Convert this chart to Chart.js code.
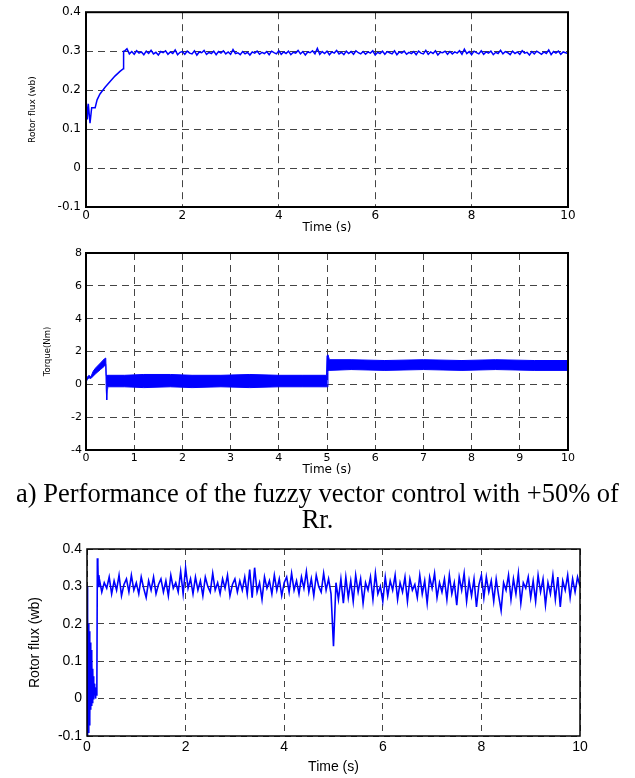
<!DOCTYPE html>
<html>
<head>
<meta charset="utf-8">
<script src="https://cdn.jsdelivr.net/npm/chart.js@4.4.0/dist/chart.umd.min.js"></script>
<style>
body { margin: 0; background: #fff; width: 635px; height: 778px; position: relative; overflow: hidden; }
.box { position: absolute; }
#caption { position: absolute; left: 0; top: 480px; width: 635px; text-align: center;
  font-family: "Liberation Serif", "Times New Roman", serif; font-size: 26.5px; line-height: 26px; color: #000; }
</style>
</head>
<body>
<div class="box" style="left:0;top:0;width:600px;height:238px"><canvas id="fluxA"></canvas></div>
<div class="box" style="left:0;top:240px;width:600px;height:240px"><canvas id="torque"></canvas></div>
<div id="caption">a) Performance of the fuzzy vector control with +50% of<br>Rr.</div>
<div class="box" style="left:0;top:530px;width:635px;height:248px"><canvas id="fluxB"></canvas></div>
<script>
// top plot: rotor flux, start-up transient then steady noise (sampled every 0.05 s from 0.8 s)
const fluxATransTime = [0, 0.005, 0.027, 0.048, 0.083, 0.118, 0.19, 0.23, 0.29, 0.4, 0.5, 0.6, 0.705, 0.775, 0.78];
const fluxATransValue = [0, 0.17, 0.125, 0.165, 0.115, 0.155, 0.155, 0.175, 0.19, 0.208, 0.222, 0.236, 0.248, 0.255, 0.3];
const fluxANoiseStart = 0.8, fluxANoiseStep = 0.05;
const fluxANoise = [
  0.300, 0.306, 0.293, 0.299, 0.292, 0.301, 0.295, 0.298, 0.291, 0.300, 0.294, 0.302, 0.293, 0.297, 0.290, 0.299, 0.296, 0.301, 0.292, 0.298,
  0.294, 0.303, 0.291, 0.297, 0.299, 0.292, 0.300, 0.295, 0.293, 0.301, 0.290, 0.298, 0.296, 0.302, 0.292, 0.297, 0.294, 0.300, 0.291, 0.299,
  0.295, 0.301, 0.293, 0.298, 0.292, 0.304, 0.294, 0.296, 0.291, 0.299, 0.293, 0.297, 0.290, 0.298, 0.295, 0.300, 0.292, 0.297, 0.294, 0.299,
  0.291, 0.300, 0.296, 0.293, 0.301, 0.292, 0.298, 0.294, 0.300, 0.291, 0.297, 0.295, 0.302, 0.293, 0.299, 0.290, 0.298, 0.296, 0.301, 0.293,
  0.307, 0.292, 0.299, 0.294, 0.300, 0.291, 0.298, 0.295, 0.302, 0.293, 0.297, 0.291, 0.300, 0.294, 0.299, 0.292, 0.301, 0.296, 0.293, 0.299,
  0.292, 0.298, 0.295, 0.301, 0.290, 0.297, 0.294, 0.300, 0.292, 0.299, 0.296, 0.293, 0.301, 0.291, 0.298, 0.295, 0.300, 0.292, 0.297, 0.294,
  0.299, 0.291, 0.300, 0.295, 0.293, 0.302, 0.292, 0.298, 0.294, 0.301, 0.290, 0.297, 0.296, 0.300, 0.292, 0.299, 0.293, 0.298, 0.295, 0.301,
  0.292, 0.305, 0.294, 0.299, 0.291, 0.300, 0.296, 0.293, 0.301, 0.292, 0.298, 0.295, 0.300, 0.291, 0.297, 0.294, 0.302, 0.293, 0.299, 0.296,
  0.291, 0.300, 0.294, 0.298, 0.292, 0.301, 0.295, 0.297, 0.290, 0.299, 0.293, 0.300, 0.296, 0.292, 0.298, 0.294, 0.303, 0.291, 0.299, 0.295,
  0.300, 0.292, 0.298, 0.296, 0.294
];

// middle plot: torque, drawn as the envelope of the fast ripple
const torqueTime  = [0, 0.03, 0.06, 0.1, 0.15, 0.2, 0.3, 0.38, 0.41, 0.42, 0.43, 0.44, 0.45, 0.8, 1.2, 1.75, 2.2, 2.8, 3.4, 4.0, 4.5, 4.99, 5.0, 5.02, 5.05, 5.5, 6.2, 7.0, 7.8, 8.5, 9.3, 10];
const torqueUpper = [0.2, 0.45, 0.55, 0.45, 0.8, 1.0, 1.3, 1.55, 1.6, 0.55, 0.5, 0.55, 0.55, 0.55, 0.6, 0.6, 0.55, 0.55, 0.6, 0.55, 0.55, 0.55, 1.75, 1.8, 1.5, 1.5, 1.45, 1.5, 1.45, 1.5, 1.45, 1.45];
const torqueLower = [0.15, 0.3, 0.4, 0.35, 0.5, 0.65, 0.9, 1.1, 1.2, -0.3, -0.95, -0.3, -0.15, -0.15, -0.2, -0.15, -0.2, -0.15, -0.2, -0.15, -0.15, -0.15, -0.15, 0.85, 0.85, 0.9, 0.85, 0.9, 0.85, 0.9, 0.85, 0.85];

// bottom plot: rotor flux with noisier estimate (sampled every 0.05 s from 0.25 s)
const fluxBTransTime = [0, 0.004, 0.012, 0.02, 0.028, 0.036, 0.044, 0.052, 0.06, 0.068, 0.076, 0.084, 0.092, 0.1, 0.108, 0.116, 0.124, 0.132, 0.14, 0.148, 0.156, 0.164, 0.172, 0.18, 0.19, 0.2, 0.21, 0.22, 0.23, 0.24];
const fluxBTransValue = [0, 0.3, -0.1, 0.22, -0.09, 0.2, -0.07, 0.18, -0.05, 0.15, -0.03, 0.13, -0.02, 0.11, -0.01, 0.08, 0.0, 0.06, 0.0, 0.04, 0.01, 0.03, 0.0, 0.02, 0.01, 0.02, 0.375, 0.36, 0.3, 0.33];
const fluxBNoiseStart = 0.25, fluxBNoiseStep = 0.05;
const fluxBNoise = [
  0.320, 0.285, 0.310, 0.295, 0.325, 0.280, 0.315, 0.290, 0.330, 0.275, 0.305, 0.320, 0.285, 0.330, 0.290, 0.310, 0.280, 0.325, 0.295, 0.270,
  0.315, 0.290, 0.325, 0.280, 0.305, 0.320, 0.285, 0.315, 0.275, 0.330, 0.295, 0.310, 0.285, 0.340, 0.280, 0.350, 0.295, 0.320, 0.280, 0.325,
  0.290, 0.315, 0.275, 0.325, 0.300, 0.285, 0.335, 0.290, 0.310, 0.280, 0.320, 0.295, 0.330, 0.275, 0.305, 0.320, 0.285, 0.315, 0.290, 0.325,
  0.280, 0.345, 0.270, 0.350, 0.285, 0.310, 0.265, 0.325, 0.295, 0.315, 0.280, 0.330, 0.290, 0.320, 0.275, 0.310, 0.325, 0.285, 0.335, 0.290,
  0.315, 0.280, 0.325, 0.295, 0.340, 0.285, 0.320, 0.275, 0.330, 0.300, 0.285, 0.335, 0.290, 0.320, 0.280, 0.140, 0.310, 0.265, 0.320, 0.255,
  0.325, 0.270, 0.315, 0.260, 0.330, 0.285, 0.320, 0.255, 0.310, 0.290, 0.325, 0.265, 0.335, 0.280, 0.300, 0.260, 0.325, 0.275, 0.315, 0.290,
  0.330, 0.265, 0.310, 0.285, 0.325, 0.260, 0.320, 0.290, 0.305, 0.270, 0.330, 0.280, 0.315, 0.255, 0.325, 0.295, 0.335, 0.270, 0.310, 0.285,
  0.320, 0.265, 0.330, 0.280, 0.310, 0.250, 0.325, 0.290, 0.335, 0.260, 0.315, 0.275, 0.320, 0.245, 0.305, 0.330, 0.270, 0.325, 0.285, 0.315,
  0.260, 0.320, 0.275, 0.235, 0.310, 0.290, 0.330, 0.265, 0.320, 0.280, 0.335, 0.255, 0.310, 0.295, 0.325, 0.270, 0.315, 0.260, 0.330, 0.285,
  0.320, 0.250, 0.310, 0.280, 0.330, 0.265, 0.325, 0.245, 0.315, 0.290, 0.330, 0.270, 0.320, 0.285, 0.325, 0.300
];

const BLUE = '#0000ff';

function series(tt, vv, start, step, noise) {
  const pts = tt.map((t, i) => ({x: t, y: vv[i]}));
  noise.forEach((v, i) => pts.push({x: +(start + i * step).toFixed(3), y: v}));
  return pts;
}

const frame = {
  id: 'frame',
  afterDraw(chart, args, opts) {
    const {ctx, chartArea: a} = chart;
    ctx.save();
    ctx.strokeStyle = '#000';
    ctx.lineWidth = opts.width || 1;
    ctx.strokeRect(a.left, a.top, a.right - a.left, a.bottom - a.top);
    ctx.restore();
  }
};

function makeChart(id, datasets, c) {
  return new Chart(document.getElementById(id), {
    type: 'line',
    data: { datasets: datasets },
    plugins: [frame],
    options: {
      responsive: true,
      maintainAspectRatio: false,
      animation: false,
      events: [],
      layout: { padding: c.pad },
      plugins: { legend: { display: false }, tooltip: { enabled: false }, frame: { width: c.frameWidth } },
      elements: { point: { radius: 0 }, line: { tension: 0 } },
      scales: {
        x: {
          type: 'linear', min: 0, max: 10,
          afterFit: s => { s.height = c.xh; },
          ticks: { stepSize: c.xStep, padding: c.xPad, font: c.tickFont, color: '#000', maxRotation: 0 },
          grid: { color: c.gridColor, drawTicks: false },
          border: { display: false, dash: c.dash },
          title: { display: true, text: 'Time (s)', font: c.xTitleFont, color: '#000', padding: { top: 0, bottom: c.xTitlePad } }
        },
        y: {
          min: c.yMin, max: c.yMax,
          afterFit: s => { s.width = c.yw; },
          ticks: { stepSize: c.yStep, padding: c.yPad, font: c.tickFont, color: '#000',
            callback: v => String(Math.round(v * 10) / 10) },
          grid: { color: c.gridColor, drawTicks: false },
          border: { display: false, dash: c.dash },
          title: { display: true, text: c.yTitle, font: c.yTitleFont, color: '#000', padding: { top: c.yTitlePad, bottom: 0 } }
        }
      }
    }
  });
}

makeChart('fluxA', [{
  data: series(fluxATransTime, fluxATransValue, fluxANoiseStart, fluxANoiseStep, fluxANoise),
  borderColor: BLUE, borderWidth: 1.5, fill: false
}], {
  pad: { left: 0, right: 32, top: 10, bottom: 0 }, xh: 31, yw: 86,
  xStep: 2, yMin: -0.1, yMax: 0.4, yStep: 0.1,
  xPad: 2, yPad: 5, xTitlePad: 3,
  tickFont: { family: 'DejaVu Sans', size: 12 },
  xTitleFont: { family: 'DejaVu Sans', size: 12 },
  yTitle: 'Rotor flux (wb)', yTitleFont: { family: 'DejaVu Sans', size: 9 }, yTitlePad: 27,
  gridColor: '#444', dash: [7, 5], frameWidth: 2
});

makeChart('torque', [{
  data: torqueTime.map((t, i) => ({x: t, y: torqueUpper[i]})),
  borderColor: BLUE, backgroundColor: BLUE, borderWidth: 1, fill: '+1'
}, {
  data: torqueTime.map((t, i) => ({x: t, y: torqueLower[i]})),
  borderColor: BLUE, borderWidth: 1, fill: false
}], {
  pad: { left: 0, right: 32, top: 13, bottom: 0 }, xh: 30, yw: 86,
  xStep: 1, yMin: -4, yMax: 8, yStep: 2,
  xPad: 2, yPad: 4, xTitlePad: 3,
  tickFont: { family: 'DejaVu Sans', size: 11 },
  xTitleFont: { family: 'DejaVu Sans', size: 12 },
  yTitle: 'Torque(Nm)', yTitleFont: { family: 'DejaVu Sans', size: 8.5 }, yTitlePad: 43,
  gridColor: '#444', dash: [7, 5], frameWidth: 2
});

makeChart('fluxB', [{
  data: series(fluxBTransTime, fluxBTransValue, fluxBNoiseStart, fluxBNoiseStep, fluxBNoise),
  borderColor: BLUE, borderWidth: 1.6, fill: false
}], {
  pad: { left: 0, right: 55, top: 19, bottom: 0 }, xh: 42, yw: 87,
  xStep: 2, yMin: -0.1, yMax: 0.4, yStep: 0.1,
  xPad: 3, yPad: 5, xTitlePad: 2,
  tickFont: { family: 'Liberation Sans', size: 14 },
  xTitleFont: { family: 'Liberation Sans', size: 14 },
  yTitle: 'Rotor flux (wb)', yTitleFont: { family: 'Liberation Sans', size: 14 }, yTitlePad: 27,
  gridColor: '#444', dash: [6, 5], frameWidth: 1.5
});
</script>
</body>
</html>
